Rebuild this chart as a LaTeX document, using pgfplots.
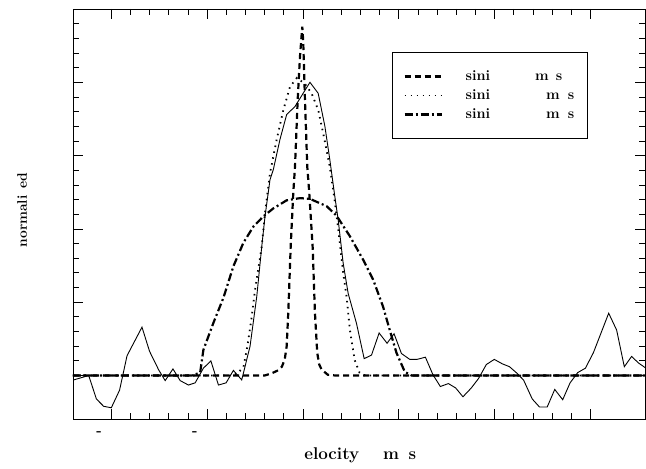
\documentclass[border=0pt]{standalone}
\usepackage{fontspec}
\usepackage{pgfplots}
\pgfplotsset{compat=1.18}
\begin{document}
\fontsize{14.5}{17}\selectfont\bfseries
\begin{tikzpicture}
\begin{axis}[
  at={(0,0)}, anchor=south west,
  scale only axis, width=572pt, height=410.5pt,
  xmin=-240, xmax=357, ymin=-0.6, ymax=5,
  xtick={-200,-100,...,300}, minor x tick num=4,
  ytick={0,1,...,5}, minor y tick num=4,
  xticklabels={{-\phantom{000}\hspace{6pt}},{-\phantom{000}\hspace{6pt}},{},{},{},{}},
  yticklabels={},
  tick align=inside, major tick length=10pt, minor tick length=6pt,
  axis line style={line width=0.8pt},
  every tick/.style={black, line width=0.8pt},
  xticklabel style={font=\fontsize{14.5}{17}\selectfont\bfseries, yshift=-1pt},
  xlabel={\phantom{v}elocity \phantom{(k}m\phantom{/}s\phantom{)}},
  ylabel={normali\phantom{z}ed},
  xlabel style={at={(axis description cs:0.5,-0.0865)}, anchor=center,
    font=\fontsize{17}{20}\selectfont\bfseries},
  ylabel style={at={(axis description cs:-0.089,0.51)}, anchor=center,
    font=\fontsize{13.8}{16}\selectfont\bfseries},
  legend cell align=left,
  legend image code/.code={\draw[#1] (0pt,0pt) -- (37pt,0pt);},
  legend style={at={(axis description cs:0.557,0.895)}, anchor=north west,
    draw=black, line width=0.6pt, fill=white, inner xsep=11.5pt, inner ysep=16pt,
    row sep=3pt, font=\fontsize{14.5}{17}\selectfont\bfseries,
    /tikz/every odd column/.append style={column sep=21pt}},
]
% observed profile
\addplot[black, line width=0.9pt, forget plot] coordinates {
 (-239.3,-0.06) (-223.6,0.00) (-215.6,-0.32) (-208.0,-0.42) (-200.0,-0.44)
 (-191.4,-0.20) (-183.6,0.27) (-176.0,0.46) (-168.0,0.66) (-160.1,0.33)
 (-150.7,0.08) (-143.8,-0.07) (-135.7,0.09) (-128.1,-0.07) (-119.5,-0.13)
 (-112.5,-0.10) (-103.9,0.10) (-96.1,0.20) (-88.2,-0.13) (-80.2,-0.10)
 (-72.6,0.07) (-63.9,-0.06) (-55.2,0.40) (-48.2,1.08) (-43.0,1.76)
 (-39.6,2.17) (-34.4,2.67) (-30.9,2.81) (-24.0,3.22) (-17.0,3.56)
 (-8.3,3.67) (7.3,4.00) (15.9,3.85) (22.9,3.40) (28.1,2.94)
 (33.3,2.44) (36.8,2.12) (42.0,1.53) (47.2,1.12) (55.9,0.71)
 (63.9,0.23) (71.6,0.28) (79.5,0.58) (87.8,0.44) (95.1,0.57)
 (102.8,0.30) (111.5,0.22) (119.1,0.22) (127.8,0.25) (135.7,0.01)
 (143.4,-0.15) (151.8,-0.11) (159.4,-0.17) (167.0,-0.29) (175.7,-0.17)
 (183.3,-0.04) (191.4,0.15) (199.7,0.22) (208.0,0.16) (215.6,0.12)
 (222.6,0.04) (230.2,-0.06) (239.3,-0.32) (246.9,-0.43) (254.9,-0.43)
 (262.8,-0.19) (271.1,-0.33) (278.8,-0.10) (286.8,0.04) (294.8,0.10)
 (303.1,0.31) (311.1,0.58) (319.1,0.85) (327.4,0.62) (335.4,0.12)
 (343.0,0.26) (350.3,0.17) (358.0,0.10)
};
% narrow model
\addplot[black, line width=2.2pt, dash pattern=on 6pt off 4pt] coordinates {
 (-240,0) (-40,0) (-32.6,0.03) (-26,0.07) (-22,0.12) (-19,0.22) (-17,0.40)
 (-15.3,0.86) (-12.8,1.76) (-10.1,2.49) (-8.3,2.85) (-5.5,3.76) (-3.1,4.35)
 (-0.7,4.76) (0.3,4.55) (2.1,3.76) (4.5,2.85) (6.6,2.49) (10.1,1.76)
 (12.5,0.86) (14.9,0.31) (17,0.15) (19.5,0.08) (26,0.01) (34,0) (357,0)
};
\addlegendentry{sini\hspace{45pt}m\hspace{7pt}s}
% medium model
\addplot[black, line width=1.8pt, dash pattern=on 1.5pt off 4.5pt] coordinates {
 (-240,0) (-75,0) (-68,0.03) (-62,0.12) (-58,0.40) (-54,0.75) (-50,1.17)
 (-43,1.76) (-39.6,2.22) (-34.4,2.76) (-27.4,3.22) (-20.5,3.62) (-13.5,3.94)
 (-6.3,4.06) (2,3.98) (9,3.85) (16,3.62) (22,3.25) (28,2.85) (33,2.40)
 (37,1.98) (42,1.40) (45.5,1.08) (49,0.62) (54,0.21) (59,0.04) (65,0) (357,0)
};
\addlegendentry{sini\hspace{56pt}m\hspace{8pt}s\hspace{15pt}}
% broad model
\addplot[black, line width=2.2pt, dash pattern=on 8pt off 3pt on 2pt off 3pt] coordinates {
 (-240,0) (-115.9,0) (-107.3,0.04) (-103.9,0.35) (-93.4,0.72) (-83.0,1.06)
 (-72.6,1.49) (-62.2,1.81) (-51.8,2.03) (-41.4,2.17) (-30.9,2.28) (-17.0,2.39)
 (-3.1,2.42) (7.3,2.41) (24.7,2.31) (35.1,2.18) (49.0,1.90) (62.8,1.58)
 (73.2,1.31) (83.6,0.94) (90.6,0.62) (97.6,0.31) (106.3,0.05) (113.5,0) (357,0)
};
\addlegendentry{sini\hspace{56pt}m\hspace{8pt}s\hspace{15pt}}
\end{axis}
\path (-73pt,-42.5pt) rectangle (573pt,419.5pt);
\end{tikzpicture}
\end{document}
